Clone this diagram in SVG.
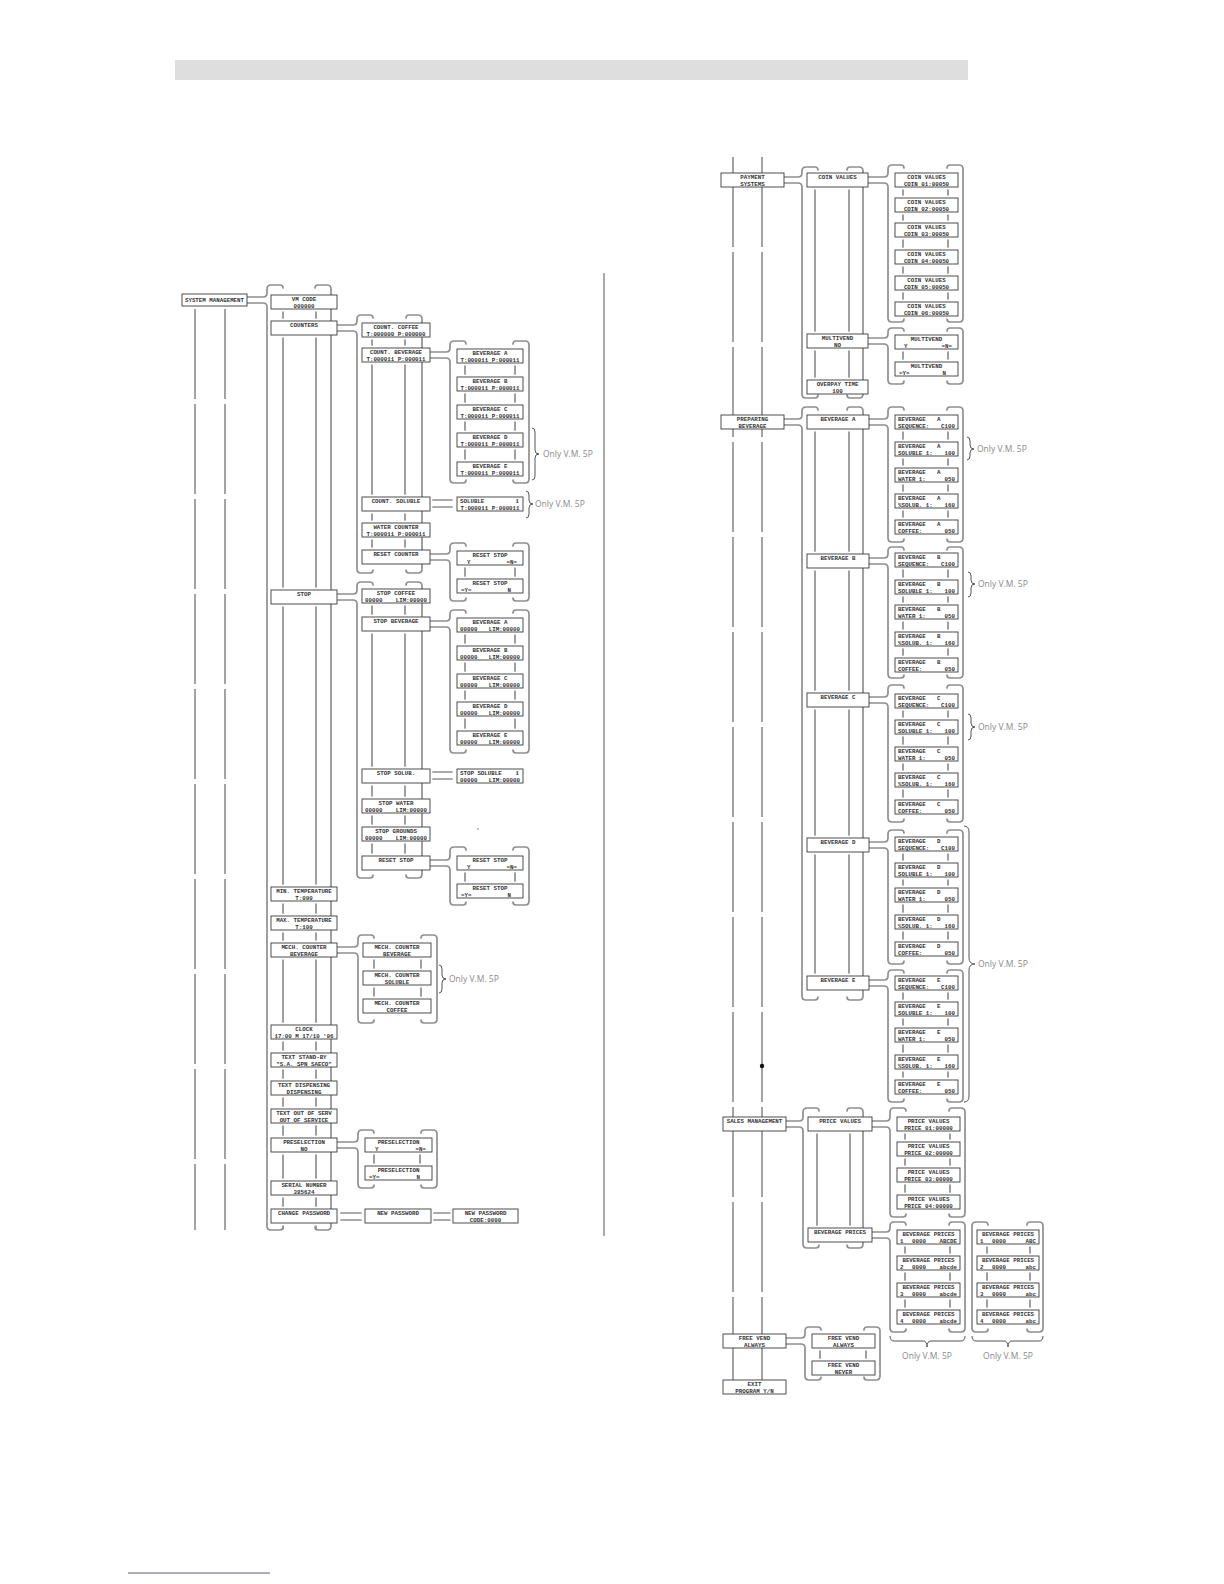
<svg xmlns="http://www.w3.org/2000/svg" width="1224" height="1584" viewBox="0 0 1224 1584">
<style>
.b{fill:#fff;stroke:#3a3a3a;stroke-width:0.9}
.t,.tl,.tr{font-family:"Liberation Mono","DejaVu Sans Mono",monospace;font-size:5.8px;font-weight:bold;fill:#333}
.t{text-anchor:middle}.tl{text-anchor:start}.tr{text-anchor:end}
.c{fill:none;stroke:#8f8f8f;stroke-width:1.7;stroke-linecap:round}
.v{fill:none;stroke:#9a9a9a;stroke-width:1.8;stroke-dasharray:90 5}
.br{fill:none;stroke:#555;stroke-width:1}
.n{font-family:"Open Sans","Liberation Sans",sans-serif;font-size:8.5px;fill:#8a8a8a}
</style>
<rect x="175" y="60" width="793" height="20" fill="#dedede"/>
<line x1="604" y1="273" x2="604" y2="1236" stroke="#555" stroke-width="1"/>
<line x1="128" y1="1573" x2="270" y2="1573" stroke="#5a5a7a" stroke-width="1"/>

<g id="connectors">
<path class="v" d="M195 309V1230M225 309V1230"/>
<path class="c" d="M247 297H263Q267 297 267 293V289Q267 285 271 285H280Q283 285 283 288"/>
<path class="c" d="M247 303H263Q267 303 267 307V1226Q267 1230 271 1230H280Q283 1230 283 1227"/>
<path class="c" d="M315 288Q315 285 318 285H327Q331 285 331 289V1226Q331 1230 327 1230H318Q315 1230 315 1227"/>
<path class="c" d="M283 312V318M283 338V587M283 607V884M283 904V913M283 933V940M283 960V1022M283 1042V1050M283 1070V1078M283 1098V1106M283 1126V1135M283 1155V1178M283 1198V1206M283 1226V1229M316 312V318M316 338V587M316 607V884M316 904V913M316 933V940M316 960V1022M316 1042V1050M316 1070V1078M316 1098V1106M316 1126V1135M316 1155V1178M316 1198V1206M316 1226V1229"/>
<path class="c" d="M337 325H353Q357 325 357 321V319Q357 315 361 315H370Q373 315 373 318"/>
<path class="c" d="M337 331H353Q357 331 357 335V569Q357 573 361 573H370Q373 573 373 570"/>
<path class="c" d="M406 318Q406 315 409 315H418Q422 315 422 319V569Q422 573 418 573H409Q406 573 406 570"/>
<path class="c" d="M372 340V345M372 365V494M372 514V520M372 540V547M405 340V345M405 365V494M405 514V520M405 540V547"/>
<path class="c" d="M338 594H353Q357 594 357 590V586Q357 582 361 582H370Q373 582 373 585"/>
<path class="c" d="M338 600H353Q357 600 357 604V874Q357 878 361 878H370Q373 878 373 875"/>
<path class="c" d="M406 585Q406 582 409 582H418Q422 582 422 586V874Q422 878 418 878H409Q406 878 406 875"/>
<path class="c" d="M372 606V614M372 634V766M372 786V796M372 816V824M372 844V853M405 606V614M405 634V766M405 786V796M405 816V824M405 844V853"/>
<path class="c" d="M337 947H354Q358 947 358 943V939Q358 935 362 935H371Q374 935 374 938"/>
<path class="c" d="M337 953H354Q358 953 358 957V1019Q358 1023 362 1023H371Q374 1023 374 1020"/>
<path class="c" d="M421 938Q421 935 424 935H433Q437 935 437 939V1019Q437 1023 433 1023H424Q421 1023 421 1020"/>
<path class="c" d="M374 960V968M374 988V996M421 960V968M421 988V996"/>
<path class="c" d="M337 1142H354Q358 1142 358 1138V1134Q358 1130 362 1130H371Q374 1130 374 1133"/>
<path class="c" d="M337 1148H354Q358 1148 358 1152V1184Q358 1188 362 1188H371Q374 1188 374 1185"/>
<path class="c" d="M421 1133Q421 1130 424 1130H433Q437 1130 437 1134V1184Q437 1188 433 1188H424Q421 1188 421 1185"/>
<path class="c" d="M374 1155V1163M420 1155V1163"/>
<path class="c" d="M341 1213H361M341 1220H361M434 1213H450M434 1220H450M433 500H452M433 507H452M433 772H452M433 779H452"/>
<path class="c" d="M430 352H446Q450 352 450 348V345Q450 341 454 341H463Q466 341 466 344"/>
<path class="c" d="M430 358H446Q450 358 450 362V479Q450 483 454 483H463Q466 483 466 480"/>
<path class="c" d="M513 344Q513 341 516 341H525Q529 341 529 345V479Q529 483 525 483H516Q513 483 513 480"/>
<path class="c" d="M465 366V374M465 394V402M465 422V430M465 450V459M515 366V374M515 394V402M515 422V430M515 450V459"/>
<path class="c" d="M430 554H446Q450 554 450 550V547Q450 543 454 543H463Q466 543 466 546"/>
<path class="c" d="M430 560H446Q450 560 450 564V597Q450 601 454 601H463Q466 601 466 598"/>
<path class="c" d="M513 546Q513 543 516 543H525Q529 543 529 547V597Q529 601 525 601H516Q513 601 513 598"/>
<path class="c" d="M465 568V576M515 568V576"/>
<path class="c" d="M430 621H446Q450 621 450 617V614Q450 610 454 610H463Q466 610 466 613"/>
<path class="c" d="M430 627H446Q450 627 450 631V749Q450 753 454 753H463Q466 753 466 750"/>
<path class="c" d="M513 613Q513 610 516 610H525Q529 610 529 614V749Q529 753 525 753H516Q513 753 513 750"/>
<path class="c" d="M465 635V643M465 663V671M465 691V699M465 719V728M515 635V643M515 663V671M515 691V699M515 719V728"/>
<path class="c" d="M430 860H446Q450 860 450 856V851Q450 847 454 847H463Q466 847 466 850"/>
<path class="c" d="M430 866H446Q450 866 450 870V901Q450 905 454 905H463Q466 905 466 902"/>
<path class="c" d="M513 850Q513 847 516 847H525Q529 847 529 851V901Q529 905 525 905H516Q513 905 513 902"/>
<path class="c" d="M465 873V881M515 873V881"/>

<path class="v" d="M733 157V1380M762 157V1380"/>
<path class="c" d="M784 177H798Q802 177 802 173V171Q802 167 806 167H815Q818 167 818 170"/>
<path class="c" d="M784 183H798Q802 183 802 187V394Q802 398 806 398H815Q818 398 818 395"/>
<path class="c" d="M847 170Q847 167 850 167H859Q863 167 863 171V394Q863 398 859 398H850Q847 398 847 395"/>
<path class="c" d="M815 190V331M815 351V377M849 190V331M849 351V377"/>
<path class="c" d="M868 177H884Q888 177 888 173V169Q888 165 892 165H901Q904 165 904 168"/>
<path class="c" d="M868 183H884Q888 183 888 187V318Q888 322 892 322H901Q904 322 904 319"/>
<path class="c" d="M947 168Q947 165 950 165H959Q963 165 963 169V318Q963 322 959 322H950Q947 322 947 319"/>
<path class="c" d="M903 190V195M903 215V220M903 240V247M903 267V273M903 293V299M948 190V195M948 215V220M948 240V247M948 267V273M948 293V299"/>
<path class="c" d="M868 338H884Q888 338 888 334V332Q888 328 892 328H901Q904 328 904 331"/>
<path class="c" d="M868 344H884Q888 344 888 348V380Q888 384 892 384H901Q904 384 904 381"/>
<path class="c" d="M947 331Q947 328 950 328H959Q963 328 963 332V380Q963 384 959 384H950Q947 384 947 381"/>
<path class="c" d="M903 352V359M948 352V359"/>
<path class="c" d="M784 419H798Q802 419 802 415V411Q802 407 806 407H815Q818 407 818 410"/>
<path class="c" d="M784 425H798Q802 425 802 429V996Q802 1000 806 1000H815Q818 1000 818 997"/>
<path class="c" d="M847 410Q847 407 850 407H859Q863 407 863 411V996Q863 1000 859 1000H850Q847 1000 847 997"/>
<path class="c" d="M815 432V551M815 571V690M815 710V835M815 855V973M849 432V551M849 571V690M849 710V835M849 855V973"/>
<path class="c" d="M869 419H884Q888 419 888 415V411Q888 407 892 407H901Q904 407 904 410"/>
<path class="c" d="M869 425H884Q888 425 888 429V538Q888 542 892 542H901Q904 542 904 539"/>
<path class="c" d="M947 410Q947 407 950 407H959Q963 407 963 411V538Q963 542 959 542H950Q947 542 947 539"/>
<path class="c" d="M903 432V439M903 459V465M903 485V491M903 511V517M948 432V439M948 459V465M948 485V491M948 511V517"/>
<path class="c" d="M869 558H884Q888 558 888 554V551Q888 547 892 547H901Q904 547 904 550"/>
<path class="c" d="M869 564H884Q888 564 888 568V674Q888 678 892 678H901Q904 678 904 675"/>
<path class="c" d="M947 550Q947 547 950 547H959Q963 547 963 551V674Q963 678 959 678H950Q947 678 947 675"/>
<path class="c" d="M903 570V577M903 597V602M903 622V629M903 649V655M948 570V577M948 597V602M948 622V629M948 649V655"/>
<path class="c" d="M869 697H884Q888 697 888 693V689Q888 685 892 685H901Q904 685 904 688"/>
<path class="c" d="M869 703H884Q888 703 888 707V818Q888 822 892 822H901Q904 822 904 819"/>
<path class="c" d="M947 688Q947 685 950 685H959Q963 685 963 689V818Q963 822 959 822H950Q947 822 947 819"/>
<path class="c" d="M903 711V717M903 737V744M903 764V770M903 790V797M948 711V717M948 737V744M948 764V770M948 790V797"/>
<path class="c" d="M869 842H884Q888 842 888 838V834Q888 830 892 830H901Q904 830 904 833"/>
<path class="c" d="M869 848H884Q888 848 888 852V960Q888 964 892 964H901Q904 964 904 961"/>
<path class="c" d="M947 833Q947 830 950 830H959Q963 830 963 834V960Q963 964 959 964H950Q947 964 947 961"/>
<path class="c" d="M903 854V860M903 880V885M903 905V912M903 932V939M948 854V860M948 880V885M948 905V912M948 932V939"/>
<path class="c" d="M869 980H884Q888 980 888 976V974Q888 970 892 970H901Q904 970 904 973"/>
<path class="c" d="M869 986H884Q888 986 888 990V1098Q888 1102 892 1102H901Q904 1102 904 1099"/>
<path class="c" d="M947 973Q947 970 950 970H959Q963 970 963 974V1098Q963 1102 959 1102H950Q947 1102 947 1099"/>
<path class="c" d="M903 993V999M903 1019V1025M903 1045V1052M903 1072V1077M948 993V999M948 1019V1025M948 1045V1052M948 1072V1077"/>
<path class="c" d="M786 1121H799Q803 1121 803 1117V1112Q803 1108 807 1108H816Q819 1108 819 1111"/>
<path class="c" d="M786 1127H799Q803 1127 803 1131V1244Q803 1248 807 1248H816Q819 1248 819 1245"/>
<path class="c" d="M847 1111Q847 1108 850 1108H859Q863 1108 863 1112V1244Q863 1248 859 1248H850Q847 1248 847 1245"/>
<path class="c" d="M817 1134V1225M850 1134V1225"/>
<path class="c" d="M872 1121H886Q890 1121 890 1117V1112Q890 1108 894 1108H903Q906 1108 906 1111"/>
<path class="c" d="M872 1127H886Q890 1127 890 1131V1213Q890 1217 894 1217H903Q906 1217 906 1214"/>
<path class="c" d="M949 1111Q949 1108 952 1108H961Q965 1108 965 1112V1213Q965 1217 961 1217H952Q949 1217 949 1214"/>
<path class="c" d="M905 1134V1139M905 1159V1165M905 1185V1192M950 1134V1139M950 1159V1165M950 1185V1192"/>
<path class="c" d="M872 1232H886Q890 1232 890 1228V1226Q890 1222 894 1222H903Q906 1222 906 1225"/>
<path class="c" d="M872 1238H886Q890 1238 890 1242V1328Q890 1332 894 1332H903Q906 1332 906 1329"/>
<path class="c" d="M949 1225Q949 1222 952 1222H961Q965 1222 965 1226V1328Q965 1332 961 1332H952Q949 1332 949 1329"/>
<path class="c" d="M905 1247V1253M905 1273V1280M905 1300V1307M950 1247V1253M950 1273V1280M950 1300V1307"/>
<path class="c" d="M988 1225Q988 1222 985 1222H976Q972 1222 972 1226V1328Q972 1332 976 1332H985Q988 1332 988 1329"/>
<path class="c" d="M1027 1225Q1027 1222 1030 1222H1039Q1043 1222 1043 1226V1328Q1043 1332 1039 1332H1030Q1027 1332 1027 1329"/>
<path class="c" d="M987 1247V1253M987 1273V1280M987 1300V1307M1030 1247V1253M1030 1273V1280M1030 1300V1307"/>
<path class="c" d="M786 1338H801Q805 1338 805 1334V1331Q805 1327 809 1327H818Q821 1327 821 1330"/>
<path class="c" d="M786 1344H801Q805 1344 805 1348V1376Q805 1380 809 1380H818Q821 1380 821 1377"/>
<path class="c" d="M864 1330Q864 1327 867 1327H876Q880 1327 880 1331V1376Q880 1380 876 1380H867Q864 1380 864 1377"/>
<path class="c" d="M820 1351V1358M866 1351V1358"/>
</g>

<g id="notes">
<path class="br" d="M532 428Q535 428 535 432V450Q535 454 539 454Q535 454 535 458V476Q535 480 532 480"/>
<text class="n" x="543" y="457">Only V.M. 5P</text>
<path class="br" d="M526 491Q529 491 529 495V500Q529 504 533 504Q529 504 529 508V514Q529 518 526 518"/>
<text class="n" x="535" y="507">Only V.M. 5P</text>
<path class="br" d="M439 965Q442 965 442 969V975Q442 979 446 979Q442 979 442 983V989Q442 993 439 993"/>
<text class="n" x="449" y="982">Only V.M. 5P</text>
<path class="br" d="M967 437Q970 437 970 441V445Q970 449 974 449Q970 449 970 453V456Q970 460 967 460"/>
<text class="n" x="977" y="452">Only V.M. 5P</text>
<path class="br" d="M968 572Q971 572 971 576V580Q971 584 975 584Q971 584 971 588V593Q971 597 968 597"/>
<text class="n" x="978" y="587">Only V.M. 5P</text>
<path class="br" d="M968 714Q971 714 971 718V723Q971 727 975 727Q971 727 971 731V736Q971 740 968 740"/>
<text class="n" x="978" y="730">Only V.M. 5P</text>
<path class="br" d="M964 826Q969 826 969 832V958Q969 964 975 964Q969 964 969 970V1096Q969 1102 964 1102"/>
<text class="n" x="978" y="967">Only V.M. 5P</text>
<path class="br" d="M890 1336Q890 1341 894 1341H923Q927 1341 927 1347Q927 1341 931 1341H961Q965 1341 965 1336"/>
<text class="n" x="927" y="1359" text-anchor="middle">Only V.M. 5P</text>
<path class="br" d="M972 1336Q972 1341 976 1341H1004Q1008 1341 1008 1347Q1008 1341 1012 1341H1039Q1043 1341 1043 1336"/>
<text class="n" x="1008" y="1359" text-anchor="middle">Only V.M. 5P</text>
<circle cx="762" cy="1066" r="2.2" fill="#111"/>
<circle cx="478" cy="829" r="0.8" fill="#777"/>
</g>

<g id="n-sm"><rect class="b" x="182" y="294" width="65" height="12"/><text class="t" x="214.5" y="302">SYSTEM MANAGEMENT</text></g>
<g id="n-vm"><rect class="b" x="271" y="295" width="66" height="14"/><text class="t" x="304" y="301.2">VM CODE</text><text class="t" x="304" y="307.6">000000</text></g>
<g id="n-counters"><rect class="b" x="271" y="321" width="66" height="14"/><text class="t" x="304" y="327.2">COUNTERS</text></g>
<g id="n-stop"><rect class="b" x="271" y="590" width="66" height="14"/><text class="t" x="304" y="596.2">STOP</text></g>
<g id="n-mintemp"><rect class="b" x="271" y="887" width="66" height="14"/><text class="t" x="304" y="893.2">MIN. TEMPERATURE</text><text class="t" x="304" y="899.6">T:090</text></g>
<g id="n-maxtemp"><rect class="b" x="271" y="916" width="66" height="14"/><text class="t" x="304" y="922.2">MAX. TEMPERATURE</text><text class="t" x="304" y="928.6">T:100</text></g>
<g id="n-mech"><rect class="b" x="271" y="943" width="66" height="14"/><text class="t" x="304" y="949.2">MECH. COUNTER</text><text class="t" x="304" y="955.6">BEVERAGE</text></g>
<g id="n-clock"><rect class="b" x="271" y="1025" width="66" height="14"/><text class="t" x="304" y="1031.2">CLOCK</text><text class="t" x="304" y="1037.6">17:00 M 17/10 '96</text></g>
<g id="n-standby"><rect class="b" x="271" y="1053" width="66" height="14"/><text class="t" x="304" y="1059.2">TEXT STAND-BY</text><text class="t" x="304" y="1065.6">"S.A. SPN SAECO"</text></g>
<g id="n-disp"><rect class="b" x="271" y="1081" width="66" height="14"/><text class="t" x="304" y="1087.2">TEXT DISPENSING</text><text class="t" x="304" y="1093.6">DISPENSING</text></g>
<g id="n-oos"><rect class="b" x="271" y="1109" width="66" height="14"/><text class="t" x="304" y="1115.2">TEXT OUT OF SERV</text><text class="t" x="304" y="1121.6">OUT OF SERVICE</text></g>
<g id="n-presel"><rect class="b" x="271" y="1138" width="66" height="14"/><text class="t" x="304" y="1144.2">PRESELECTION</text><text class="t" x="304" y="1150.6">NO</text></g>
<g id="n-serial"><rect class="b" x="271" y="1181" width="66" height="14"/><text class="t" x="304" y="1187.2">SERIAL NUMBER</text><text class="t" x="304" y="1193.6">385624</text></g>
<g id="n-chpw"><rect class="b" x="271" y="1209" width="66" height="14"/><text class="t" x="304" y="1215.2">CHANGE PASSWORD</text></g>

<g id="n-cc"><rect class="b" x="362" y="323" width="68" height="14"/><text class="t" x="396" y="329.2">COUNT. COFFEE</text><text class="t" x="396" y="335.6">T:000000 P:000000</text></g>
<g id="n-cb"><rect class="b" x="362" y="348" width="68" height="14"/><text class="t" x="396" y="354.2">COUNT. BEVERAGE</text><text class="t" x="396" y="360.6">T:000011 P:000011</text></g>
<g id="n-cs"><rect class="b" x="362" y="497" width="68" height="14"/><text class="t" x="396" y="503.2">COUNT. SOLUBLE</text></g>
<g id="n-wc"><rect class="b" x="362" y="523" width="68" height="14"/><text class="t" x="396" y="529.2">WATER COUNTER</text><text class="t" x="396" y="535.6">T:000011 P:000011</text></g>
<g id="n-rc"><rect class="b" x="362" y="550" width="68" height="14"/><text class="t" x="396" y="556.2">RESET COUNTER</text></g>

<g id="n-sc"><rect class="b" x="362" y="589" width="68" height="14"/><text class="t" x="396" y="595.2">STOP COFFEE</text><text class="tl" x="365" y="601.6">00000</text><text class="tr" x="427" y="601.6">LIM:00000</text></g>
<g id="n-sb"><rect class="b" x="362" y="617" width="68" height="14"/><text class="t" x="396" y="623.2">STOP BEVERAGE</text></g>
<g id="n-ss"><rect class="b" x="362" y="769" width="68" height="14"/><text class="t" x="396" y="775.2">STOP SOLUB.</text></g>
<g id="n-sw"><rect class="b" x="362" y="799" width="68" height="14"/><text class="t" x="396" y="805.2">STOP WATER</text><text class="tl" x="365" y="811.6">00000</text><text class="tr" x="427" y="811.6">LIM:00000</text></g>
<g id="n-sg"><rect class="b" x="362" y="827" width="68" height="14"/><text class="t" x="396" y="833.2">STOP GROUNDS</text><text class="tl" x="365" y="839.6">00000</text><text class="tr" x="427" y="839.6">LIM:00000</text></g>
<g id="n-rs"><rect class="b" x="362" y="856" width="68" height="14"/><text class="t" x="396" y="862.2">RESET STOP</text></g>

<g id="n-mc1"><rect class="b" x="363" y="943" width="68" height="14"/><text class="t" x="397" y="949.2">MECH. COUNTER</text><text class="t" x="397" y="955.6">BEVERAGE</text></g>
<g id="n-mc2"><rect class="b" x="363" y="971" width="68" height="14"/><text class="t" x="397" y="977.2">MECH. COUNTER</text><text class="t" x="397" y="983.6">SOLUBLE</text></g>
<g id="n-mc3"><rect class="b" x="363" y="999" width="68" height="14"/><text class="t" x="397" y="1005.2">MECH. COUNTER</text><text class="t" x="397" y="1011.6">COFFEE</text></g>

<g id="n-ps1"><rect class="b" x="365" y="1138" width="67" height="14"/><text class="t" x="398.5" y="1144.2">PRESELECTION</text><text class="tl" x="375" y="1150.6">Y</text><text class="tr" x="426" y="1150.6">=N=</text></g>
<g id="n-ps2"><rect class="b" x="365" y="1166" width="67" height="14"/><text class="t" x="398.5" y="1172.2">PRESELECTION</text><text class="tl" x="369" y="1178.6">=Y=</text><text class="tr" x="420" y="1178.6">N</text></g>
<g id="n-np"><rect class="b" x="365" y="1209" width="66" height="14"/><text class="t" x="398" y="1215.2">NEW PASSWORD</text></g>
<g id="n-npc"><rect class="b" x="453" y="1209" width="65" height="14"/><text class="t" x="485.5" y="1215.2">NEW PASSWORD</text><text class="t" x="485.5" y="1221.6">CODE:0000</text></g>

<g id="n-cba"><rect class="b" x="457" y="349" width="66" height="14"/><text class="t" x="490" y="355.2">BEVERAGE A</text><text class="t" x="490" y="361.6">T:000011 P:000011</text></g>
<g id="n-cbb"><rect class="b" x="457" y="377" width="66" height="14"/><text class="t" x="490" y="383.2">BEVERAGE B</text><text class="t" x="490" y="389.6">T:000011 P:000011</text></g>
<g id="n-cbc"><rect class="b" x="457" y="405" width="66" height="14"/><text class="t" x="490" y="411.2">BEVERAGE C</text><text class="t" x="490" y="417.6">T:000011 P:000011</text></g>
<g id="n-cbd"><rect class="b" x="457" y="433" width="66" height="14"/><text class="t" x="490" y="439.2">BEVERAGE D</text><text class="t" x="490" y="445.6">T:000011 P:000011</text></g>
<g id="n-cbe"><rect class="b" x="457" y="462" width="66" height="14"/><text class="t" x="490" y="468.2">BEVERAGE E</text><text class="t" x="490" y="474.6">T:000011 P:000011</text></g>
<g id="n-sol"><rect class="b" x="457" y="497" width="66" height="14"/><text class="tl" x="460" y="503.2">SOLUBLE</text><text class="tr" x="519" y="503.2">1</text><text class="t" x="490" y="509.6">T:000011 P:000011</text></g>
<g id="n-rs1"><rect class="b" x="457" y="551" width="66" height="14"/><text class="t" x="490" y="557.2">RESET STOP</text><text class="tl" x="467" y="563.6">Y</text><text class="tr" x="517" y="563.6">=N=</text></g>
<g id="n-rs2"><rect class="b" x="457" y="579" width="66" height="14"/><text class="t" x="490" y="585.2">RESET STOP</text><text class="tl" x="461" y="591.6">=Y=</text><text class="tr" x="511" y="591.6">N</text></g>
<g id="n-sba"><rect class="b" x="457" y="618" width="66" height="14"/><text class="t" x="490" y="624.2">BEVERAGE A</text><text class="tl" x="460" y="630.6">00000</text><text class="tr" x="520" y="630.6">LIM:00000</text></g>
<g id="n-sbb"><rect class="b" x="457" y="646" width="66" height="14"/><text class="t" x="490" y="652.2">BEVERAGE B</text><text class="tl" x="460" y="658.6">00000</text><text class="tr" x="520" y="658.6">LIM:00000</text></g>
<g id="n-sbc"><rect class="b" x="457" y="674" width="66" height="14"/><text class="t" x="490" y="680.2">BEVERAGE C</text><text class="tl" x="460" y="686.6">00000</text><text class="tr" x="520" y="686.6">LIM:00000</text></g>
<g id="n-sbd"><rect class="b" x="457" y="702" width="66" height="14"/><text class="t" x="490" y="708.2">BEVERAGE D</text><text class="tl" x="460" y="714.6">00000</text><text class="tr" x="520" y="714.6">LIM:00000</text></g>
<g id="n-sbe"><rect class="b" x="457" y="731" width="66" height="14"/><text class="t" x="490" y="737.2">BEVERAGE E</text><text class="tl" x="460" y="743.6">00000</text><text class="tr" x="520" y="743.6">LIM:00000</text></g>
<g id="n-ssol"><rect class="b" x="457" y="769" width="66" height="14"/><text class="tl" x="460" y="775.2">STOP SOLUBLE</text><text class="tr" x="519" y="775.2">1</text><text class="tl" x="460" y="781.6">00000</text><text class="tr" x="520" y="781.6">LIM:00000</text></g>
<g id="n-rs3"><rect class="b" x="457" y="856" width="66" height="14"/><text class="t" x="490" y="862.2">RESET STOP</text><text class="tl" x="467" y="868.6">Y</text><text class="tr" x="517" y="868.6">=N=</text></g>
<g id="n-rs4"><rect class="b" x="457" y="884" width="66" height="14"/><text class="t" x="490" y="890.2">RESET STOP</text><text class="tl" x="461" y="896.6">=Y=</text><text class="tr" x="511" y="896.6">N</text></g>

<g id="n-pay"><rect class="b" x="721" y="173" width="63" height="14"/><text class="t" x="752.5" y="179.2">PAYMENT</text><text class="t" x="752.5" y="185.6">SYSTEMS</text></g>
<g id="n-prep"><rect class="b" x="721" y="415" width="63" height="14"/><text class="t" x="752.5" y="421.2">PREPARING</text><text class="t" x="752.5" y="427.6">BEVERAGE</text></g>
<g id="n-sales"><rect class="b" x="723" y="1117" width="63" height="14"/><text class="t" x="754.5" y="1123.2">SALES MANAGEMENT</text></g>
<g id="n-free"><rect class="b" x="723" y="1334" width="63" height="14"/><text class="t" x="754.5" y="1340.2">FREE VEND</text><text class="t" x="754.5" y="1346.6">ALWAYS</text></g>
<g id="n-exit"><rect class="b" x="723" y="1380" width="63" height="14"/><text class="t" x="754.5" y="1386.2">EXIT</text><text class="t" x="754.5" y="1392.6">PROGRAM Y/N</text></g>

<g id="n-coin"><rect class="b" x="807" y="173" width="61" height="14"/><text class="t" x="837.5" y="179.2">COIN VALUES</text></g>
<g id="n-mv"><rect class="b" x="807" y="334" width="61" height="14"/><text class="t" x="837.5" y="340.2">MULTIVEND</text><text class="t" x="837.5" y="346.6">NO</text></g>
<g id="n-ot"><rect class="b" x="807" y="380" width="61" height="14"/><text class="t" x="837.5" y="386.2">OVERPAY TIME</text><text class="t" x="837.5" y="392.6">100</text></g>

<g id="n-cv1"><rect class="b" x="895" y="173" width="63" height="14"/><text class="t" x="926.5" y="179.2">COIN VALUES</text><text class="t" x="926.5" y="185.6">COIN 01:00050</text></g>
<g id="n-cv2"><rect class="b" x="895" y="198" width="63" height="14"/><text class="t" x="926.5" y="204.2">COIN VALUES</text><text class="t" x="926.5" y="210.6">COIN 02:00050</text></g>
<g id="n-cv3"><rect class="b" x="895" y="223" width="63" height="14"/><text class="t" x="926.5" y="229.2">COIN VALUES</text><text class="t" x="926.5" y="235.6">COIN 03:00050</text></g>
<g id="n-cv4"><rect class="b" x="895" y="250" width="63" height="14"/><text class="t" x="926.5" y="256.2">COIN VALUES</text><text class="t" x="926.5" y="262.6">COIN 04:00050</text></g>
<g id="n-cv5"><rect class="b" x="895" y="276" width="63" height="14"/><text class="t" x="926.5" y="282.2">COIN VALUES</text><text class="t" x="926.5" y="288.6">COIN 05:00050</text></g>
<g id="n-cv6"><rect class="b" x="895" y="302" width="63" height="14"/><text class="t" x="926.5" y="308.2">COIN VALUES</text><text class="t" x="926.5" y="314.6">COIN 06:00050</text></g>
<g id="n-mv1"><rect class="b" x="895" y="335" width="63" height="14"/><text class="t" x="926.5" y="341.2">MULTIVEND</text><text class="tl" x="904" y="347.6">Y</text><text class="tr" x="952" y="347.6">=N=</text></g>
<g id="n-mv2"><rect class="b" x="895" y="362" width="63" height="14"/><text class="t" x="926.5" y="368.2">MULTIVEND</text><text class="tl" x="899" y="374.6">=Y=</text><text class="tr" x="946" y="374.6">N</text></g>

<g id="n-bva"><rect class="b" x="807" y="415" width="62" height="14"/><text class="t" x="838" y="421.2">BEVERAGE A</text></g>
<g id="n-bvb"><rect class="b" x="807" y="554" width="62" height="14"/><text class="t" x="838" y="560.2">BEVERAGE B</text></g>
<g id="n-bvc"><rect class="b" x="807" y="693" width="62" height="14"/><text class="t" x="838" y="699.2">BEVERAGE C</text></g>
<g id="n-bvd"><rect class="b" x="807" y="838" width="62" height="14"/><text class="t" x="838" y="844.2">BEVERAGE D</text></g>
<g id="n-bve"><rect class="b" x="807" y="976" width="62" height="14"/><text class="t" x="838" y="982.2">BEVERAGE E</text></g>

<g id="n-a1"><rect class="b" x="895" y="415" width="63" height="14"/><text class="tl" x="898" y="421.2">BEVERAGE</text><text class="tl" x="937" y="421.2">A</text><text class="tl" x="898" y="427.6">SEQUENCE:</text><text class="tr" x="955" y="427.6">C100</text></g>
<g id="n-a2"><rect class="b" x="895" y="442" width="63" height="14"/><text class="tl" x="898" y="448.2">BEVERAGE</text><text class="tl" x="937" y="448.2">A</text><text class="tl" x="898" y="454.6">SOLUBLE 1:</text><text class="tr" x="955" y="454.6">100</text></g>
<g id="n-a3"><rect class="b" x="895" y="468" width="63" height="14"/><text class="tl" x="898" y="474.2">BEVERAGE</text><text class="tl" x="937" y="474.2">A</text><text class="tl" x="898" y="480.6">WATER 1:</text><text class="tr" x="955" y="480.6">050</text></g>
<g id="n-a4"><rect class="b" x="895" y="494" width="63" height="14"/><text class="tl" x="898" y="500.2">BEVERAGE</text><text class="tl" x="937" y="500.2">A</text><text class="tl" x="898" y="506.6">%SOLUB. 1:</text><text class="tr" x="955" y="506.6">160</text></g>
<g id="n-a5"><rect class="b" x="895" y="520" width="63" height="14"/><text class="tl" x="898" y="526.2">BEVERAGE</text><text class="tl" x="937" y="526.2">A</text><text class="tl" x="898" y="532.6">COFFEE:</text><text class="tr" x="955" y="532.6">050</text></g>

<g id="n-b1"><rect class="b" x="895" y="553" width="63" height="14"/><text class="tl" x="898" y="559.2">BEVERAGE</text><text class="tl" x="937" y="559.2">B</text><text class="tl" x="898" y="565.6">SEQUENCE:</text><text class="tr" x="955" y="565.6">C100</text></g>
<g id="n-b2"><rect class="b" x="895" y="580" width="63" height="14"/><text class="tl" x="898" y="586.2">BEVERAGE</text><text class="tl" x="937" y="586.2">B</text><text class="tl" x="898" y="592.6">SOLUBLE 1:</text><text class="tr" x="955" y="592.6">100</text></g>
<g id="n-b3"><rect class="b" x="895" y="605" width="63" height="14"/><text class="tl" x="898" y="611.2">BEVERAGE</text><text class="tl" x="937" y="611.2">B</text><text class="tl" x="898" y="617.6">WATER 1:</text><text class="tr" x="955" y="617.6">050</text></g>
<g id="n-b4"><rect class="b" x="895" y="632" width="63" height="14"/><text class="tl" x="898" y="638.2">BEVERAGE</text><text class="tl" x="937" y="638.2">B</text><text class="tl" x="898" y="644.6">%SOLUB. 1:</text><text class="tr" x="955" y="644.6">160</text></g>
<g id="n-b5"><rect class="b" x="895" y="658" width="63" height="14"/><text class="tl" x="898" y="664.2">BEVERAGE</text><text class="tl" x="937" y="664.2">B</text><text class="tl" x="898" y="670.6">COFFEE:</text><text class="tr" x="955" y="670.6">050</text></g>

<g id="n-c1"><rect class="b" x="895" y="694" width="63" height="14"/><text class="tl" x="898" y="700.2">BEVERAGE</text><text class="tl" x="937" y="700.2">C</text><text class="tl" x="898" y="706.6">SEQUENCE:</text><text class="tr" x="955" y="706.6">C100</text></g>
<g id="n-c2"><rect class="b" x="895" y="720" width="63" height="14"/><text class="tl" x="898" y="726.2">BEVERAGE</text><text class="tl" x="937" y="726.2">C</text><text class="tl" x="898" y="732.6">SOLUBLE 1:</text><text class="tr" x="955" y="732.6">100</text></g>
<g id="n-c3"><rect class="b" x="895" y="747" width="63" height="14"/><text class="tl" x="898" y="753.2">BEVERAGE</text><text class="tl" x="937" y="753.2">C</text><text class="tl" x="898" y="759.6">WATER 1:</text><text class="tr" x="955" y="759.6">050</text></g>
<g id="n-c4"><rect class="b" x="895" y="773" width="63" height="14"/><text class="tl" x="898" y="779.2">BEVERAGE</text><text class="tl" x="937" y="779.2">C</text><text class="tl" x="898" y="785.6">%SOLUB. 1:</text><text class="tr" x="955" y="785.6">160</text></g>
<g id="n-c5"><rect class="b" x="895" y="800" width="63" height="14"/><text class="tl" x="898" y="806.2">BEVERAGE</text><text class="tl" x="937" y="806.2">C</text><text class="tl" x="898" y="812.6">COFFEE:</text><text class="tr" x="955" y="812.6">050</text></g>

<g id="n-d1"><rect class="b" x="895" y="837" width="63" height="14"/><text class="tl" x="898" y="843.2">BEVERAGE</text><text class="tl" x="937" y="843.2">D</text><text class="tl" x="898" y="849.6">SEQUENCE:</text><text class="tr" x="955" y="849.6">C100</text></g>
<g id="n-d2"><rect class="b" x="895" y="863" width="63" height="14"/><text class="tl" x="898" y="869.2">BEVERAGE</text><text class="tl" x="937" y="869.2">D</text><text class="tl" x="898" y="875.6">SOLUBLE 1:</text><text class="tr" x="955" y="875.6">100</text></g>
<g id="n-d3"><rect class="b" x="895" y="888" width="63" height="14"/><text class="tl" x="898" y="894.2">BEVERAGE</text><text class="tl" x="937" y="894.2">D</text><text class="tl" x="898" y="900.6">WATER 1:</text><text class="tr" x="955" y="900.6">050</text></g>
<g id="n-d4"><rect class="b" x="895" y="915" width="63" height="14"/><text class="tl" x="898" y="921.2">BEVERAGE</text><text class="tl" x="937" y="921.2">D</text><text class="tl" x="898" y="927.6">%SOLUB. 1:</text><text class="tr" x="955" y="927.6">160</text></g>
<g id="n-d5"><rect class="b" x="895" y="942" width="63" height="14"/><text class="tl" x="898" y="948.2">BEVERAGE</text><text class="tl" x="937" y="948.2">D</text><text class="tl" x="898" y="954.6">COFFEE:</text><text class="tr" x="955" y="954.6">050</text></g>

<g id="n-e1"><rect class="b" x="895" y="976" width="63" height="14"/><text class="tl" x="898" y="982.2">BEVERAGE</text><text class="tl" x="937" y="982.2">E</text><text class="tl" x="898" y="988.6">SEQUENCE:</text><text class="tr" x="955" y="988.6">C100</text></g>
<g id="n-e2"><rect class="b" x="895" y="1002" width="63" height="14"/><text class="tl" x="898" y="1008.2">BEVERAGE</text><text class="tl" x="937" y="1008.2">E</text><text class="tl" x="898" y="1014.6">SOLUBLE 1:</text><text class="tr" x="955" y="1014.6">100</text></g>
<g id="n-e3"><rect class="b" x="895" y="1028" width="63" height="14"/><text class="tl" x="898" y="1034.2">BEVERAGE</text><text class="tl" x="937" y="1034.2">E</text><text class="tl" x="898" y="1040.6">WATER 1:</text><text class="tr" x="955" y="1040.6">050</text></g>
<g id="n-e4"><rect class="b" x="895" y="1055" width="63" height="14"/><text class="tl" x="898" y="1061.2">BEVERAGE</text><text class="tl" x="937" y="1061.2">E</text><text class="tl" x="898" y="1067.6">%SOLUB. 1:</text><text class="tr" x="955" y="1067.6">160</text></g>
<g id="n-e5"><rect class="b" x="895" y="1080" width="63" height="14"/><text class="tl" x="898" y="1086.2">BEVERAGE</text><text class="tl" x="937" y="1086.2">E</text><text class="tl" x="898" y="1092.6">COFFEE:</text><text class="tr" x="955" y="1092.6">050</text></g>

<g id="n-pvs"><rect class="b" x="808" y="1117" width="64" height="14"/><text class="t" x="840" y="1123.2">PRICE VALUES</text></g>
<g id="n-bps"><rect class="b" x="808" y="1228" width="64" height="14"/><text class="t" x="840" y="1234.2">BEVERAGE PRICES</text></g>

<g id="n-pv1"><rect class="b" x="897" y="1117" width="63" height="14"/><text class="t" x="928.5" y="1123.2">PRICE VALUES</text><text class="t" x="928.5" y="1129.6">PRICE 01:00000</text></g>
<g id="n-pv2"><rect class="b" x="897" y="1142" width="63" height="14"/><text class="t" x="928.5" y="1148.2">PRICE VALUES</text><text class="t" x="928.5" y="1154.6">PRICE 02:00000</text></g>
<g id="n-pv3"><rect class="b" x="897" y="1168" width="63" height="14"/><text class="t" x="928.5" y="1174.2">PRICE VALUES</text><text class="t" x="928.5" y="1180.6">PRICE 03:00000</text></g>
<g id="n-pv4"><rect class="b" x="897" y="1195" width="63" height="14"/><text class="t" x="928.5" y="1201.2">PRICE VALUES</text><text class="t" x="928.5" y="1207.6">PRICE 04:00000</text></g>

<g id="n-bp11"><rect class="b" x="897" y="1230" width="63" height="14"/><text class="t" x="928.5" y="1236.2">BEVERAGE PRICES</text><text class="tl" x="900" y="1242.6">1</text><text class="tl" x="912" y="1242.6">0000</text><text class="tr" x="957" y="1242.6">ABCDE</text></g>
<g id="n-bp12"><rect class="b" x="897" y="1256" width="63" height="14"/><text class="t" x="928.5" y="1262.2">BEVERAGE PRICES</text><text class="tl" x="900" y="1268.6">2</text><text class="tl" x="912" y="1268.6">0000</text><text class="tr" x="957" y="1268.6">abcde</text></g>
<g id="n-bp13"><rect class="b" x="897" y="1283" width="63" height="14"/><text class="t" x="928.5" y="1289.2">BEVERAGE PRICES</text><text class="tl" x="900" y="1295.6">3</text><text class="tl" x="912" y="1295.6">0000</text><text class="tr" x="957" y="1295.6">abcde</text></g>
<g id="n-bp14"><rect class="b" x="897" y="1310" width="63" height="14"/><text class="t" x="928.5" y="1316.2">BEVERAGE PRICES</text><text class="tl" x="900" y="1322.6">4</text><text class="tl" x="912" y="1322.6">0000</text><text class="tr" x="957" y="1322.6">abcde</text></g>

<g id="n-bp21"><rect class="b" x="977" y="1230" width="62" height="14"/><text class="t" x="1008" y="1236.2">BEVERAGE PRICES</text><text class="tl" x="980" y="1242.6">1</text><text class="tl" x="992" y="1242.6">0000</text><text class="tr" x="1036" y="1242.6">ABC</text></g>
<g id="n-bp22"><rect class="b" x="977" y="1256" width="62" height="14"/><text class="t" x="1008" y="1262.2">BEVERAGE PRICES</text><text class="tl" x="980" y="1268.6">2</text><text class="tl" x="992" y="1268.6">0000</text><text class="tr" x="1036" y="1268.6">abc</text></g>
<g id="n-bp23"><rect class="b" x="977" y="1283" width="62" height="14"/><text class="t" x="1008" y="1289.2">BEVERAGE PRICES</text><text class="tl" x="980" y="1295.6">3</text><text class="tl" x="992" y="1295.6">0000</text><text class="tr" x="1036" y="1295.6">abc</text></g>
<g id="n-bp24"><rect class="b" x="977" y="1310" width="62" height="14"/><text class="t" x="1008" y="1316.2">BEVERAGE PRICES</text><text class="tl" x="980" y="1322.6">4</text><text class="tl" x="992" y="1322.6">0000</text><text class="tr" x="1036" y="1322.6">abc</text></g>

<g id="n-fv1"><rect class="b" x="812" y="1334" width="63" height="14"/><text class="t" x="843.5" y="1340.2">FREE VEND</text><text class="t" x="843.5" y="1346.6">ALWAYS</text></g>
<g id="n-fv2"><rect class="b" x="812" y="1361" width="63" height="14"/><text class="t" x="843.5" y="1367.2">FREE VEND</text><text class="t" x="843.5" y="1373.6">NEVER</text></g>
</svg>
